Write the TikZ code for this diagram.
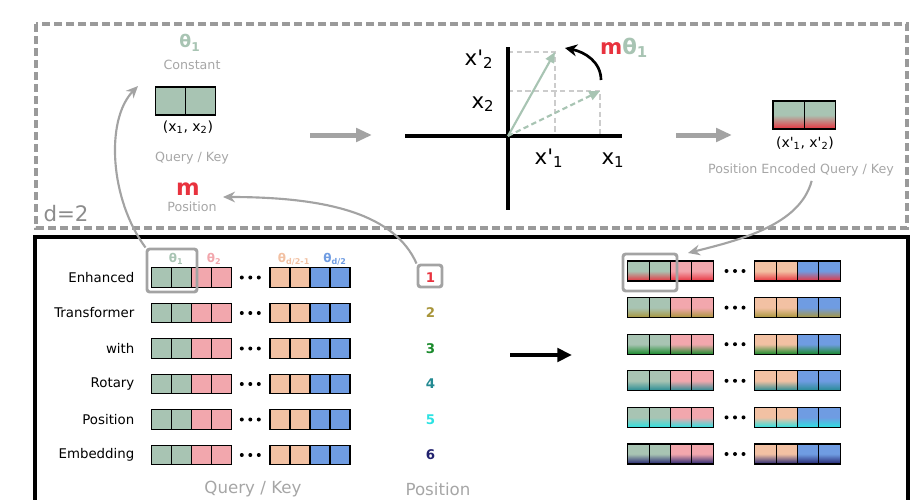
\documentclass[tikz,border=0pt]{standalone}
\usepackage{fontspec}
\setmainfont{DejaVu Sans}
\usetikzlibrary{positioning,arrows.meta}

\definecolor{qgreen}{HTML}{A8C4B3}
\definecolor{qpink}{HTML}{F2A7AD}
\definecolor{qpeach}{HTML}{F2C1A3}
\definecolor{qblue}{HTML}{6F9CE2}
\definecolor{lgray}{HTML}{A3A3A3}
\definecolor{fgray}{HTML}{9A9A9A}
\definecolor{tgray}{HTML}{A6A6A6}
\definecolor{dgray}{HTML}{8C8C8C}
\definecolor{pos1}{HTML}{E8323E}
\definecolor{pos2}{HTML}{A8953A}
\definecolor{pos3}{HTML}{1A8A2C}
\definecolor{pos4}{HTML}{238A92}
\definecolor{pos5}{HTML}{2CE2E2}
\definecolor{pos6}{HTML}{22226E}

\tikzset{
  cell/.style={draw, line width=0.8pt, inner sep=0pt, outer sep=0pt,
    minimum width=15pt, minimum height=14.5pt, fill=#1},
  pecell/.style 2 args={draw, line width=0.8pt, inner sep=0pt, outer sep=0pt,
    minimum width=16pt, minimum height=15pt,
    top color=#1, bottom color=#2, middle color=#1},
  note/.style={text=tgray, font=\fontsize{9.5}{11}\selectfont},
  rowlab/.style={anchor=east, font=\fontsize{10}{12}\selectfont},
  posnum/.style={font=\fontsize{10}{12}\selectfont\bfseries},
  thlab/.style={font=\fontsize{9}{11}\selectfont\bfseries},
  axlab/.style={font=\fontsize{16}{18}\selectfont},
  hilite/.style={draw=lgray, line width=2.2pt, rounded corners=2pt, inner sep=0pt},
  link/.style={draw=lgray, line width=1.6pt, -{Stealth[length=9pt,width=8pt]}},
  flow/.style={draw=lgray, line width=3.75pt, -{Triangle[length=12pt,width=10pt]}},
  coordaxis/.style={line width=2.6pt},
  proj/.style={draw=lgray!55, line width=1.2pt, dash pattern=on 4pt off 2.5pt},
  vec/.style={draw=qgreen, line width=1.6pt, -{Triangle[length=8pt,width=7pt]}},
}

\begin{document}
\begin{tikzpicture}[x=0.75pt, y=-0.75pt]
\useasboundingbox (0,0) rectangle (922,500);
\clip (0,0) rectangle (922,500);
% frames
\draw[fgray, line width=2.4pt, dash pattern=on 6pt off 3pt] (36,24) rectangle (907,228);
\draw[line width=3pt] (34.5,237) rectangle (908,530);
\node[text=dgray, font=\fontsize{16}{18}\selectfont] (d) at (66,214) {d=2};

% single pair before rotation
\node[cell=qgreen, minimum width=22.5pt, minimum height=21pt] (qk1) at (170.7,101) {};
\node[cell=qgreen, minimum width=22.5pt, minimum height=21pt, right=0pt of qk1] (qk2) {};
\node[text=qgreen, font=\fontsize{13}{15}\selectfont\bfseries] (th1) at (190,43) {θ\textsubscript{1}};
\node[note] (const) at (192,65) {Constant};
\node[font=\fontsize{10.5}{12}\selectfont] (xy) at (188,127) {(x\textsubscript{1}, x\textsubscript{2})};
\node[note] (qk) at (192,158) {Query / Key};
\node[text=pos1, font=\fontsize{17}{19}\selectfont\bfseries] (m) at (188,189) {m};
\node[note] (mpos) at (192,207) {Position};

\coordinate (f1a) at (310,135);
\coordinate (f1b) at (372,135);
\draw[flow] (f1a) -- (f1b);

% rotation in the plane
\coordinate (O) at (508,136);
\coordinate (xl) at (405,136);
\coordinate (xr) at (622,136);
\coordinate (yt) at (508,47);
\coordinate (yb) at (508,210);
\coordinate (v) at (600,91);
\coordinate (vr) at (555,52);
\draw[proj] (O |- v) -- (v) -- (v |- O);
\draw[proj] (O |- vr) -- (vr) -- (vr |- O);
\draw[coordaxis] (xl) -- (xr);
\draw[coordaxis] (yt) -- (yb);
\draw[vec] (O) -- (vr);
\draw[vec, dash pattern=on 4pt off 2.5pt] (O) -- (v);
\node[axlab] (x2r) at (479,59) {x\textquotesingle\textsubscript{2}};
\node[axlab] (x2) at (483,104) {x\textsubscript{2}};
\node[axlab] (x1r) at (549,158) {x\textquotesingle\textsubscript{1}};
\node[axlab] (x1) at (613,160) {x\textsubscript{1}};
\coordinate (r0) at (601,80);
\coordinate (r1) at (565,48);
\draw[line width=2pt, -{Stealth[length=9pt,width=9pt]}] (r0) .. controls (601,62) and (585,52) .. (r1);
\node[font=\fontsize{16}{18}\selectfont\bfseries] (mth) at (624,48) {\textcolor{pos1}{m}\textcolor{qgreen}{θ\textsubscript{1}}};

\coordinate (f2a) at (676,135);
\coordinate (f2b) at (732,135);
\draw[flow] (f2a) -- (f2b);

% encoded pair
\node[pecell={qgreen}{pos1}, minimum width=23.6pt, minimum height=21pt] (pe1) at (788.75,115) {};
\node[pecell={qgreen}{pos1}, minimum width=23.6pt, minimum height=21pt, right=0pt of pe1] (pe2) {};
\node[font=\fontsize{10.5}{12}\selectfont] (xyr) at (805,143) {(x\textquotesingle\textsubscript{1}, x\textquotesingle\textsubscript{2})};
\node[note] (penc) at (801,170) {Position Encoded Query / Key};

% rows of query / key
\foreach \lab/\pc [count=\r] in {Enhanced/pos1,Transformer/pos2,with/pos3,Rotary/pos4,Position/pos5,Embedding/pos6}{
  \node[rowlab] (lab\r) at (139,242+35.5*\r) {\lab};
  \foreach \col/\cx [count=\k] in {qgreen/161.7,qgreen/181.7,qpink/201.7,qpink/221.7,qpeach/280,qpeach/300,qblue/320,qblue/340}
    \node[cell=\col] (q\r-\k) at (\cx,242+35.5*\r) {};
  \foreach \dx in {-8.5,0,8.5} \fill (250.3+\dx,242+35.5*\r) circle (1.5pt);
  \node[posnum, text=\pc] (n\r) at (430.5,242+35.5*\r) {\r};
  \foreach \col/\cx [count=\k] in {qgreen/638.6,qgreen/659.9,qpink/681.1,qpink/702.4,qpeach/765.6,qpeach/786.9,qblue/808.1,qblue/829.4}
    \node[pecell={\col}{\pc}] (e\r-\k) at (\cx,234.4+36.6*\r) {};
  \foreach \dx in {-8.5,0,8.5} \fill (735+\dx,234.4+36.6*\r) circle (1.5pt);
}
\node[thlab, text=qgreen] (t1) at (176,259) {θ\textsubscript{1}};
\node[thlab, text=qpink] (t2) at (214,259) {θ\textsubscript{2}};
\node[thlab, text=qpeach] (t3) at (294,259) {θ\textsubscript{d/2-1}};
\node[thlab, text=qblue] (t4) at (335,259) {θ\textsubscript{d/2}};

\node[hilite, minimum width=37.5pt, minimum height=32.25pt] (hl) at (172,270.5) {};
\node[hilite, minimum width=40.5pt, minimum height=27.75pt] (hr) at (650,272.5) {};
\node[hilite, minimum width=18pt, minimum height=16.5pt] (b1) at (430,276) {};

\coordinate (ba) at (510,355);
\coordinate (bb) at (572,355);
\draw[line width=3pt, -{Triangle[length=11pt,width=10pt]}] (ba) -- (bb);

\node[text=tgray, font=\fontsize{12.5}{14}\selectfont] (qkb) at (253,489) {Query / Key};
\node[text=tgray, font=\fontsize{12.5}{14}\selectfont] (posb) at (438,489) {Position};

% links
\coordinate (cin) at (138,86);
\draw[link] (hl.north west) .. controls (110,200) and (105,120) .. (cin);
\coordinate (min) at (223,197);
\draw[link] (b1.north west) .. controls (395,215) and (330,197) .. (min);
\coordinate (ein) at (688,253);
\draw[link] ([xshift=8pt]penc.south) .. controls (800,225) and (740,240) .. (ein);
\end{tikzpicture}
\end{document}
